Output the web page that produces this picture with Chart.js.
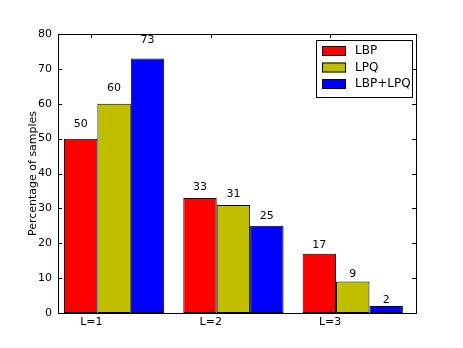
<!DOCTYPE html>
<html>
<head>
<meta charset="utf-8">
<script src="https://cdn.jsdelivr.net/npm/chart.js@4/dist/chart.umd.min.js"></script>
<style>
  html, body { margin: 0; padding: 0; background: #fff; }
  #wrap { width: 463px; height: 348px; }
</style>
</head>
<body>
<div id="wrap"><canvas id="chart" width="463" height="348"></canvas></div>
<script>
// values
const categories = ["L=1", "L=2", "L=3"]
const lbpValues = [50, 33, 17]
const lpqValues = [60, 31, 9]
const bothValues = [73, 25, 2]
const yTicks = [0, 10, 20, 30, 40, 50, 60, 70, 80]

const FONT = "'DejaVu Sans', sans-serif"
const tickOffset = -0.19   // tick sits inside the first bar, like the original plot

const toPoints = (arr) => arr.map((v, i) => ({ x: i, y: v }))

// inward ticks on all four sides + frame
const framePlugin = {
  id: "frame",
  afterDraw(chart) {
    const { ctx, chartArea: a, scales } = chart
    ctx.save()
    ctx.strokeStyle = "#000"
    ctx.lineWidth = 1
    ctx.beginPath()
    yTicks.forEach(t => {
      const y = Math.round(scales.y.getPixelForValue(t)) + 0.5
      ctx.moveTo(a.left, y); ctx.lineTo(a.left + 4, y)
      ctx.moveTo(a.right, y); ctx.lineTo(a.right - 4, y)
    })
    categories.forEach((c, i) => {
      const x = Math.round(scales.x.getPixelForValue(i + tickOffset)) + 0.5
      ctx.moveTo(x, a.bottom); ctx.lineTo(x, a.bottom - 4)
      ctx.moveTo(x, a.top); ctx.lineTo(x, a.top + 4)
    })
    ctx.stroke()
    ctx.strokeRect(Math.round(a.left) + 0.5, Math.round(a.top) + 0.5,
      Math.round(a.right - a.left), Math.round(a.bottom - a.top))
    ctx.restore()
  }
}

// numbers above each bar at 1.05 * height
const labelPlugin = {
  id: "barLabels",
  afterDatasetsDraw(chart) {
    const { ctx, scales } = chart
    ctx.save()
    ctx.font = "11px " + FONT
    ctx.fillStyle = "#000"
    ctx.textAlign = "center"
    ctx.textBaseline = "bottom"
    chart.data.datasets.forEach((ds, di) => {
      chart.getDatasetMeta(di).data.forEach((bar, i) => {
        const v = ds.data[i].y
        ctx.fillText(String(v), bar.x, scales.y.getPixelForValue(v * 1.05))
      })
    })
    ctx.restore()
  }
}

// legend box in the upper right of the plot
const legendPlugin = {
  id: "boxLegend",
  afterDraw(chart) {
    const { ctx } = chart
    const x0 = 316, y0 = 40, w = 96, h = 57
    ctx.save()
    ctx.fillStyle = "#fff"
    ctx.fillRect(x0, y0, w, h)
    ctx.strokeStyle = "#000"
    ctx.lineWidth = 1
    ctx.strokeRect(x0 + 0.5, y0 + 0.5, w, h)
    ctx.font = "12px " + FONT
    ctx.textBaseline = "middle"
    chart.data.datasets.forEach((ds, i) => {
      const cy = y0 + 11 + i * 16.5
      ctx.fillStyle = ds.backgroundColor
      ctx.fillRect(x0 + 6, cy - 5, 24, 10)
      ctx.strokeStyle = "#000"
      ctx.strokeRect(x0 + 6.5, cy - 4.5, 23, 9)
      ctx.fillStyle = "#000"
      ctx.fillText(ds.label, x0 + 39, cy)
    })
    ctx.restore()
  }
}

const ctx = document.getElementById("chart").getContext("2d")

new Chart(ctx, {
  type: "bar",
  data: {
    datasets: [
      { label: "LBP", data: toPoints(lbpValues), backgroundColor: "#ff0000" },
      { label: "LPQ", data: toPoints(lpqValues), backgroundColor: "#bfbf00" },
      { label: "LBP+LPQ", data: toPoints(bothValues), backgroundColor: "#0000ff" }
    ]
  },
  options: {
    responsive: false,
    animation: false,
    categoryPercentage: 0.84,
    barPercentage: 1.0,
    layout: { padding: { top: 34, right: 47, left: 0, bottom: 0 } },
    elements: {
      bar: { borderColor: "#000", borderWidth: 1, borderSkipped: false }
    },
    plugins: {
      legend: { display: false },
      tooltip: { enabled: false }
    },
    scales: {
      x: {
        type: "linear",
        offset: false,
        min: -0.47,
        max: 2.53,
        grid: { display: false, drawTicks: false },
        border: { display: false },
        afterBuildTicks: (scale) => {
          scale.ticks = categories.map((c, i) => ({ value: i + tickOffset }))
        },
        afterFit: (scale) => { scale.height = 35 },
        ticks: {
          padding: 3,
          maxRotation: 0,
          autoSkip: false,
          color: "#000",
          font: { family: FONT, size: 11 },
          callback: (value, index) => categories[index]
        }
      },
      y: {
        min: 0,
        max: 80,
        grid: { display: false, drawTicks: false },
        border: { display: false },
        afterBuildTicks: (scale) => {
          scale.ticks = yTicks.map(v => ({ value: v }))
        },
        afterFit: (scale) => { scale.width = 58 },
        ticks: {
          padding: 6,
          color: "#000",
          font: { family: FONT, size: 11 }
        },
        title: {
          display: true,
          text: "Percentage of samples",
          color: "#000",
          font: { family: FONT, size: 11 },
          padding: { top: 27, bottom: 0 }
        }
      }
    }
  },
  plugins: [framePlugin, labelPlugin, legendPlugin]
})
</script>
</body>
</html>
